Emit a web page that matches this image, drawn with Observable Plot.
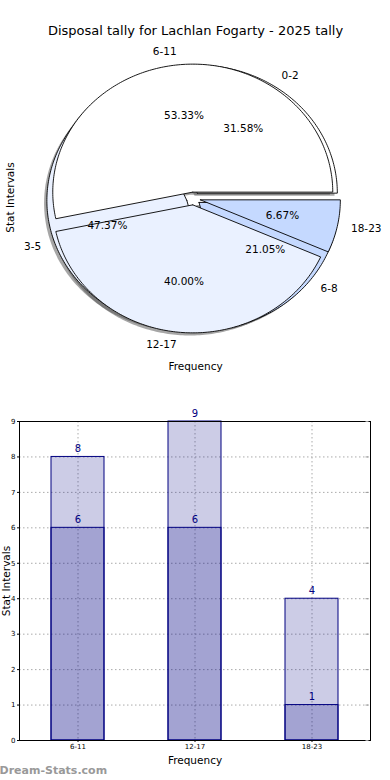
<!DOCTYPE html>
<html><head><meta charset="utf-8">
<script src="https://cdn.jsdelivr.net/npm/d3@7"></script>
<script src="https://cdn.jsdelivr.net/npm/@observablehq/plot@0.6"></script>
<style>body{margin:0;background:#fff;} #chart{width:390px;} svg{display:block;}</style>
</head><body><div id="chart"></div>
<script>
const title = "Disposal tally for Lachlan Fogarty - 2025 tally";
const xLabel = "Frequency";
const yLabel = "Stat Intervals";
const watermark = "Dream-Stats.com";
const pieInnerLabels = ["6-11", "12-17", "18-23"];
const pieInnerValues = [8, 6, 1];
const pieOuterLabels = ["0-2", "3-5", "6-8"];
const pieOuterValues = [6, 9, 4];
const pieColors = ["#ffffff", "#eaf1ff", "#c5d9ff"];
const barCategories = ["6-11", "12-17", "18-23"];
const barTotals = [8, 9, 4];
const barInner = [6, 6, 1];
const yTicks = [0, 1, 2, 3, 4, 5, 6, 7, 8, 9];
const EXPLODE = 0.05;

const FONT = "DejaVu Sans";

function wedges(labels, values, pieId) {
  const total = d3.sum(values);
  let start = 0;
  const polys = [], texts = [];
  values.forEach((v, i) => {
    const frac = v / total;
    const t1 = start * 360, t2 = (start + frac) * 360;
    start += frac;
    const mid = (t1 + t2) / 2 * Math.PI / 180;
    const ox = EXPLODE * Math.cos(mid), oy = EXPLODE * Math.sin(mid);
    const key = pieId + i;
    const fill = pieColors[i];
    polys.push({key, x: ox, y: oy, fill});
    const n = Math.max(2, Math.ceil(t2 - t1));
    for (let k = 0; k <= n; k++) {
      const a = (t1 + (t2 - t1) * k / n) * Math.PI / 180;
      polys.push({key, x: ox + Math.cos(a), y: oy + Math.sin(a), fill});
    }
    polys.push({key, x: ox, y: oy, fill});
    const lx = ox + 1.1 * Math.cos(mid);
    texts.push({
      label: labels[i],
      pct: (frac * 100).toFixed(2) + "%",
      lx, ly: oy + 1.1 * Math.sin(mid),
      px: ox + 0.6 * Math.cos(mid), py: oy + 0.6 * Math.sin(mid),
      anchor: lx < 0 ? "end" : "start"
    });
  });
  return {polys, texts};
}

const inner = wedges(pieInnerLabels, pieInnerValues, "a");
const outer = wedges(pieOuterLabels, pieOuterValues, "b");
const allTexts = inner.texts.concat(outer.texts);

const cx = 193, cy = 198, rx = 140, ry = 128;

const pie = Plot.plot({
  width: 390, height: 385, margin: 0,
  style: {fontFamily: FONT, background: "#fff"},
  x: {domain: [-1, 1], range: [cx - rx, cx + rx], axis: null},
  y: {domain: [-1, 1], range: [cy + ry, cy - ry], axis: null},
  color: {type: "identity"},
  marks: [
    Plot.line(outer.polys, {x: "x", y: "y", z: "key", fill: "#4d4d4d", fillOpacity: 0.5, stroke: "none", dx: -2.8, dy: 2.6}),
    Plot.line(inner.polys, {x: "x", y: "y", z: "key", fill: "#4d4d4d", fillOpacity: 0.5, stroke: "none", dx: -2.8, dy: 2.6}),
    Plot.line(outer.polys, {x: "x", y: "y", z: "key", fill: "fill", stroke: "#000", strokeWidth: 0.9}),
    Plot.line(inner.polys, {x: "x", y: "y", z: "key", fill: "fill", stroke: "#000", strokeWidth: 0.9}),
    Plot.text(allTexts.filter(d => d.anchor === "end"), {x: "lx", y: "ly", text: "label", textAnchor: "end", fontSize: 10.5, fill: "#000"}),
    Plot.text(allTexts.filter(d => d.anchor === "start"), {x: "lx", y: "ly", text: "label", textAnchor: "start", fontSize: 10.5, fill: "#000"}),
    Plot.text(allTexts, {x: "px", y: "py", text: "pct", fontSize: 10.5, fill: "#000"}),
    Plot.text([title], {frameAnchor: "top", dy: 30, lineAnchor: "middle", fontSize: 13, fill: "#000"}),
    Plot.text([xLabel], {frameAnchor: "top", dy: 366, lineAnchor: "middle", fontSize: 10.5, fill: "#000"}),
    Plot.text([yLabel], {frameAnchor: "top-left", dx: 10, dy: 197, rotate: -90, lineAnchor: "middle", textAnchor: "middle", fontSize: 10.5, fill: "#000"})
  ]
});

const barData = barCategories.map((c, i) => ({cat: c, total: barTotals[i], inner: barInner[i]}));
const ML = 19, MT = 36, MB = 40, MR = 20, BH = 395;

const bars = Plot.plot({
  width: 390, height: BH, marginTop: MT, marginBottom: MB, marginLeft: ML, marginRight: MR,
  style: {fontFamily: FONT, background: "#fff"},
  x: {domain: barCategories, paddingInner: 0.55, paddingOuter: 0.275, axis: null},
  y: {domain: [0, 9], axis: null},
  marks: [
    Plot.gridY(yTicks, {stroke: "#aaa", strokeOpacity: 1, strokeDasharray: "1.5,2.5"}),
    Plot.gridX(barCategories, {stroke: "#aaa", strokeOpacity: 1, strokeDasharray: "1.5,2.5"}),
    Plot.barY(barData, {x: "cat", y1: 0, y2: "total", fill: "navy", fillOpacity: 0.2, stroke: "navy", strokeWidth: 1}),
    Plot.barY(barData, {x: "cat", y1: 0, y2: "inner", fill: "navy", fillOpacity: 0.2, stroke: "navy", strokeWidth: 1}),
    Plot.text(barData, {x: "cat", y: "total", text: d => String(d.total), dy: -8, fill: "navy", fontSize: 10}),
    Plot.text(barData, {x: "cat", y: "inner", text: d => String(d.inner), dy: -8, fill: "navy", fontSize: 10}),
    Plot.frame({stroke: "#000", strokeWidth: 1}),
    Plot.axisY(yTicks, {anchor: "left", tickSize: 2, tickPadding: 2, fontSize: 7, label: null, tickFormat: d => String(d), fill: "#000", stroke: "#000"}),
    Plot.tickY(yTicks, {y: d => d, frameAnchor: "right", stroke: "#999", dx: -1.5, insetLeft: 348, strokeWidth: 1}),
    Plot.axisX(barCategories, {anchor: "bottom", tickSize: 2, tickPadding: 2, fontSize: 7, label: null, fill: "#000", stroke: "#000"}),
    Plot.text([xLabel], {frameAnchor: "bottom", dy: 20, lineAnchor: "middle", fontSize: 10.5, fill: "#000"}),
    Plot.text([yLabel], {frameAnchor: "left", dx: -13, rotate: -90, lineAnchor: "middle", textAnchor: "middle", fontSize: 10.5, fill: "#000"}),
    Plot.text([watermark], {frameAnchor: "bottom-left", dx: -ML - 1, dy: 30, textAnchor: "start", lineAnchor: "middle", fontSize: 11, fontWeight: "bold", fill: "#999"})
  ]
});

const root = document.getElementById("chart");
root.appendChild(pie);
root.appendChild(bars);
</script>
</body></html>
